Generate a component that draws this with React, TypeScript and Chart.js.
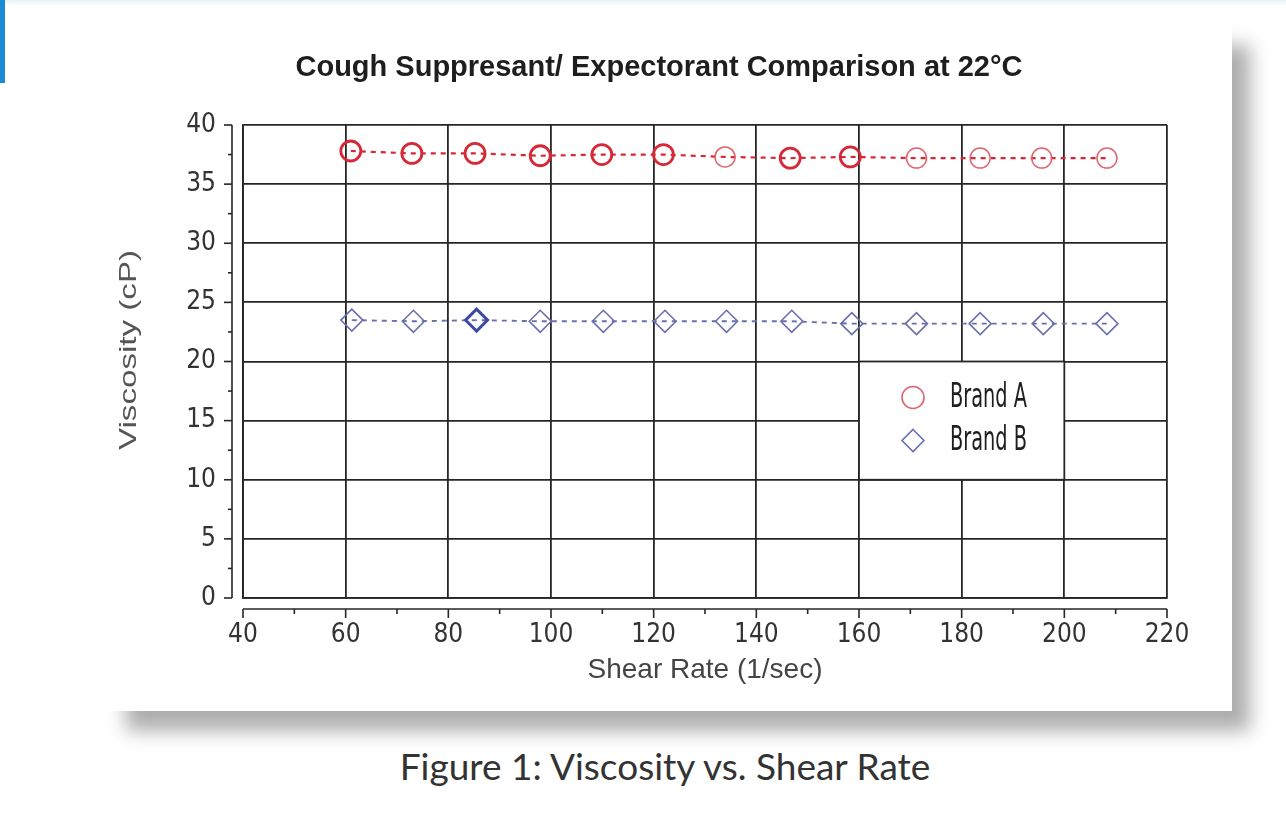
import React, { useEffect, useRef } from "react";
import { Chart, registerables } from "chart.js";

Chart.register(...registerables);

// ---------- data ----------
const chartTitle = "Cough Suppresant/ Expectorant Comparison at 22°C";
const xAxisTitle = "Shear Rate (1/sec)";
const yAxisTitle = "Viscosity (cP)";
const seriesNames = ["Brand A", "Brand B"];
const captionText = "Figure 1: Viscosity vs. Shear Rate";

const shearRateA = [61.0, 72.9, 85.2, 97.9, 109.9, 121.9, 133.9, 146.6, 158.3, 171.2, 183.6, 195.6, 208.3];
const viscosityA = [37.8, 37.6, 37.6, 37.4, 37.5, 37.5, 37.3, 37.2, 37.3, 37.2, 37.2, 37.2, 37.2];
const shearRateB = [61.2, 73.2, 85.5, 97.9, 110.2, 122.2, 134.2, 146.9, 158.6, 171.2, 183.6, 195.9, 208.3];
const viscosityB = [23.5, 23.4, 23.5, 23.4, 23.4, 23.4, 23.4, 23.4, 23.2, 23.2, 23.2, 23.2, 23.2];

// points drawn heavier in the original (overlapping replicate readings)
const heavyPointsA = [0, 1, 2, 3, 4, 5, 7, 8];
const heavyPointsB = [2];

const xMin = 40;
const xMax = 220;
const xStep = 20;
const yMin = 0;
const yMax = 40;
const yStep = 5;
const legendCell = { x0: 160, x1: 200, yTop: 20, yBottom: 10 };

// ---------- styles ----------
const RED = "#d62836";
const RED_LIGHT = "#e0646e";
const BLUE = "#3f4a9e";
const BLUE_LIGHT = "#6a70ac";
const GRID = "#262626";
const GRID_W = 1.8;
const NARROW = '"Liberation Sans Narrow", "DejaVu Sans Condensed", "Liberation Sans", sans-serif';
const SANS = '"Liberation Sans", Arial, sans-serif';

const decorPlugin = {
  id: "decor",
  beforeDatasetsDraw(chart: any) {
    const { ctx, scales } = chart;
    const xs = scales.x;
    const ys = scales.y;
    const lx0 = xs.getPixelForValue(legendCell.x0);
    const lx1 = xs.getPixelForValue(legendCell.x1);
    const ly0 = ys.getPixelForValue(legendCell.yTop);
    const ly1 = ys.getPixelForValue(legendCell.yBottom);
    ctx.save();
    ctx.fillStyle = "#ffffff";
    ctx.fillRect(lx0, ly0, lx1 - lx0, ly1 - ly0);
    ctx.strokeStyle = GRID;
    ctx.lineWidth = GRID_W;
    ctx.strokeRect(lx0, ly0, lx1 - lx0, ly1 - ly0);

    // legend entries
    const mx = lx0 + 54;
    const rows = [ly0 + 36, ly0 + 79];
    ctx.lineWidth = 1.6;
    ctx.strokeStyle = RED_LIGHT;
    ctx.beginPath();
    ctx.arc(mx, rows[0], 11, 0, Math.PI * 2);
    ctx.stroke();
    ctx.strokeStyle = BLUE_LIGHT;
    ctx.beginPath();
    ctx.moveTo(mx, rows[1] - 11);
    ctx.lineTo(mx + 11, rows[1]);
    ctx.lineTo(mx, rows[1] + 11);
    ctx.lineTo(mx - 11, rows[1]);
    ctx.closePath();
    ctx.stroke();

    ctx.fillStyle = "#1e1e1e";
    ctx.font = `34px ${NARROW}`;
    ctx.textAlign = "left";
    ctx.textBaseline = "middle";
    const tw = ctx.measureText(seriesNames[0]).width;
    const sx = 77 / tw;
    seriesNames.forEach((name, i) => {
      ctx.save();
      ctx.translate(lx0 + 91, rows[i] + 1);
      ctx.scale(sx, 1);
      ctx.fillText(name, 0, 0);
      ctx.restore();
    });
    ctx.restore();
  },
  afterDraw(chart: any) {
    const { ctx, chartArea: a, scales } = chart;
    const xs = scales.x;
    const ys = scales.y;
    ctx.save();
    ctx.strokeStyle = GRID;
    ctx.lineWidth = 1.6;
    // offset y axis
    const ax = a.left - 11;
    ctx.beginPath();
    ctx.moveTo(ax, ys.getPixelForValue(yMax));
    ctx.lineTo(ax, ys.getPixelForValue(yMin));
    ctx.stroke();
    for (let v = yMin; v <= yMax + 1e-6; v += yStep / 2) {
      const py = ys.getPixelForValue(v);
      const major = Math.abs(v / yStep - Math.round(v / yStep)) < 1e-6;
      ctx.beginPath();
      ctx.moveTo(ax, py);
      ctx.lineTo(ax - (major ? 8 : 4), py);
      ctx.stroke();
    }
    // offset x axis
    const ay = a.bottom + 11;
    ctx.beginPath();
    ctx.moveTo(xs.getPixelForValue(xMin), ay);
    ctx.lineTo(xs.getPixelForValue(xMax), ay);
    ctx.stroke();
    for (let v = xMin; v <= xMax + 1e-6; v += xStep / 2) {
      const px = xs.getPixelForValue(v);
      const major = Math.abs(v / xStep - Math.round(v / xStep)) < 1e-6;
      ctx.beginPath();
      ctx.moveTo(px, ay);
      ctx.lineTo(px, ay + (major ? 9 : 5));
      ctx.stroke();
    }

    // title
    ctx.fillStyle = "#1e1e1e";
    ctx.font = `bold 29px ${SANS}`;
    ctx.textAlign = "center";
    ctx.textBaseline = "middle";
    ctx.fillText(chartTitle, 551, 43);

    // y axis title (stretched along its length as in the original)
    ctx.save();
    ctx.translate(a.left - 114, 325);
    ctx.rotate(-Math.PI / 2);
    ctx.font = `24px ${SANS}`;
    const w = ctx.measureText(yAxisTitle).width;
    ctx.scale(200 / w, 1);
    ctx.fillStyle = "#555";
    ctx.textAlign = "center";
    ctx.textBaseline = "middle";
    ctx.fillText(yAxisTitle, 0, 0);
    ctx.restore();

    ctx.restore();
  },
};

export default function App() {
  const canvasRef = useRef<HTMLCanvasElement | null>(null);

  useEffect(() => {
    const canvas = canvasRef.current;
    if (!canvas) return;
    const tickFont = { family: NARROW, size: 26 };
    const chart = new Chart(canvas, {
      type: "scatter",
      data: {
        datasets: [
          {
            label: seriesNames[0],
            data: shearRateA.map((x, i) => ({ x, y: viscosityA[i] })),
            showLine: true,
            borderColor: RED,
            borderWidth: 2.2,
            borderDash: [5, 5],
            pointStyle: "circle",
            pointRadius: 10,
            pointBackgroundColor: "rgba(0,0,0,0)",
            pointBorderColor: shearRateA.map((_, i) => (heavyPointsA.includes(i) ? RED : RED_LIGHT)),
            pointBorderWidth: shearRateA.map((_, i) => (heavyPointsA.includes(i) ? 2.8 : 1.5)),
          },
          {
            label: seriesNames[1],
            data: shearRateB.map((x, i) => ({ x, y: viscosityB[i] })),
            showLine: true,
            borderColor: BLUE_LIGHT,
            borderWidth: 1.9,
            borderDash: [5, 5],
            pointStyle: "rectRot",
            pointRadius: 11,
            pointBackgroundColor: "rgba(0,0,0,0)",
            pointBorderColor: shearRateB.map((_, i) => (heavyPointsB.includes(i) ? BLUE : BLUE_LIGHT)),
            pointBorderWidth: shearRateB.map((_, i) => (heavyPointsB.includes(i) ? 3 : 1.6)),
          },
        ],
      },
      options: {
        responsive: false,
        animation: false,
        devicePixelRatio: 1,
        layout: { padding: { left: 0, top: 100, right: 65, bottom: 0 } },
        plugins: {
          legend: { display: false },
          title: { display: false },
          tooltip: { enabled: false },
        },
        scales: {
          x: {
            type: "linear",
            min: xMin,
            max: xMax,
            afterFit: (s: any) => {
              s.height = 113;
            },
            ticks: { stepSize: xStep, padding: 22, color: "#333", font: tickFont, maxRotation: 0, autoSkip: false },
            grid: { color: GRID, lineWidth: GRID_W, drawTicks: false },
            border: { color: GRID, width: GRID_W },
            title: {
              display: true,
              text: xAxisTitle,
              color: "#444",
              font: { family: SANS, size: 28 },
              padding: { top: 0, bottom: 24 },
            },
          },
          y: {
            type: "linear",
            min: yMin,
            max: yMax,
            afterFit: (s: any) => {
              s.width = 135;
            },
            ticks: { stepSize: yStep, padding: 27, color: "#333", font: tickFont },
            grid: { color: GRID, lineWidth: GRID_W, drawTicks: false },
            border: { color: GRID, width: GRID_W },
          },
        },
      },
      plugins: [decorPlugin],
    });
    return () => chart.destroy();
  }, []);

  return (
    <div
      style={{
        position: "fixed",
        left: 0,
        top: 0,
        width: 1286,
        height: 826,
        background: "#ffffff",
        overflow: "hidden",
      }}
    >
      <div
        style={{
          position: "absolute",
          left: 0,
          top: 0,
          width: 1286,
          height: 6,
          background: "linear-gradient(#e4f4f9, #ffffff)",
        }}
      />
      <div style={{ position: "absolute", left: 0, top: 0, width: 5, height: 83, background: "#1b8bd3" }} />
      <div
        style={{
          position: "absolute",
          left: 108,
          top: 25,
          width: 1124,
          height: 686,
          background: "#ffffff",
          boxShadow: "18px 20px 18px rgba(0,0,0,0.32)",
        }}
      >
        <canvas ref={canvasRef} width={1124} height={686} style={{ display: "block" }} />
      </div>
      <div
        style={{
          position: "absolute",
          left: 0,
          width: 1330,
          top: 746,
          textAlign: "center",
          fontFamily: 'Lato, "Open Sans", sans-serif',
          fontSize: 37,
          lineHeight: "40px",
          color: "#333",
        }}
      >
        {captionText}
      </div>
    </div>
  );
}
